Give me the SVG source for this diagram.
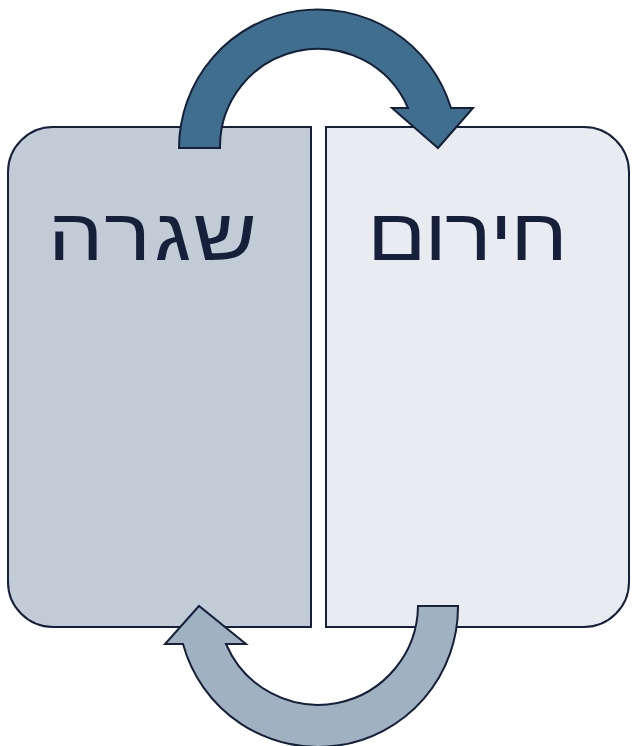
<svg xmlns="http://www.w3.org/2000/svg" width="635" height="746" viewBox="0 0 635 746">
  <style>
    .box { stroke: #15203a; stroke-width: 2; }
    .lbl { font-family: "Liberation Sans", "DejaVu Sans", sans-serif; font-size: 73px; fill: #16203a; text-anchor: middle; }
    .arr { stroke: #15203a; stroke-width: 2; stroke-linejoin: miter; }
  </style>
  <rect width="635" height="746" fill="#ffffff"/>
  <g id="routine">
    <path class="box" fill="#c2ccd6" d="M311,127 L53,127 A45,45 0 0 0 8,172 L8,582 A45,45 0 0 0 53,627 L311,627 Z"/>
    <text class="lbl" transform="translate(152.5,260) scale(1.2,1)" x="0" y="0" direction="rtl" textLength="174" lengthAdjust="spacing">שגרה</text>
  </g>
  <g id="emergency">
    <path class="box" fill="#e8ebf0" d="M326,127 L584,127 A45,45 0 0 1 629,172 L629,582 A45,45 0 0 1 584,627 L326,627 Z"/>
    <text class="lbl" transform="translate(467.5,260) scale(1.2,1)" x="0" y="0" direction="rtl" textLength="167.5" lengthAdjust="spacing">חירום</text>
  </g>
  <g id="connectors">
    <path class="arr" fill="#3f6e8e" d="M179,148 A139,139 0 0 1 451,108 L473,108 L438,148 L392,108 L408,108 A98,98 0 0 0 220,148 Z"/>
    <path class="arr" fill="#a0b2c1" d="M458,606 A140,140 0 0 1 183,644 L165,644 L199,606 L246,644 L226,644 A100,100 0 0 0 418,606 Z"/>
  </g>
</svg>
